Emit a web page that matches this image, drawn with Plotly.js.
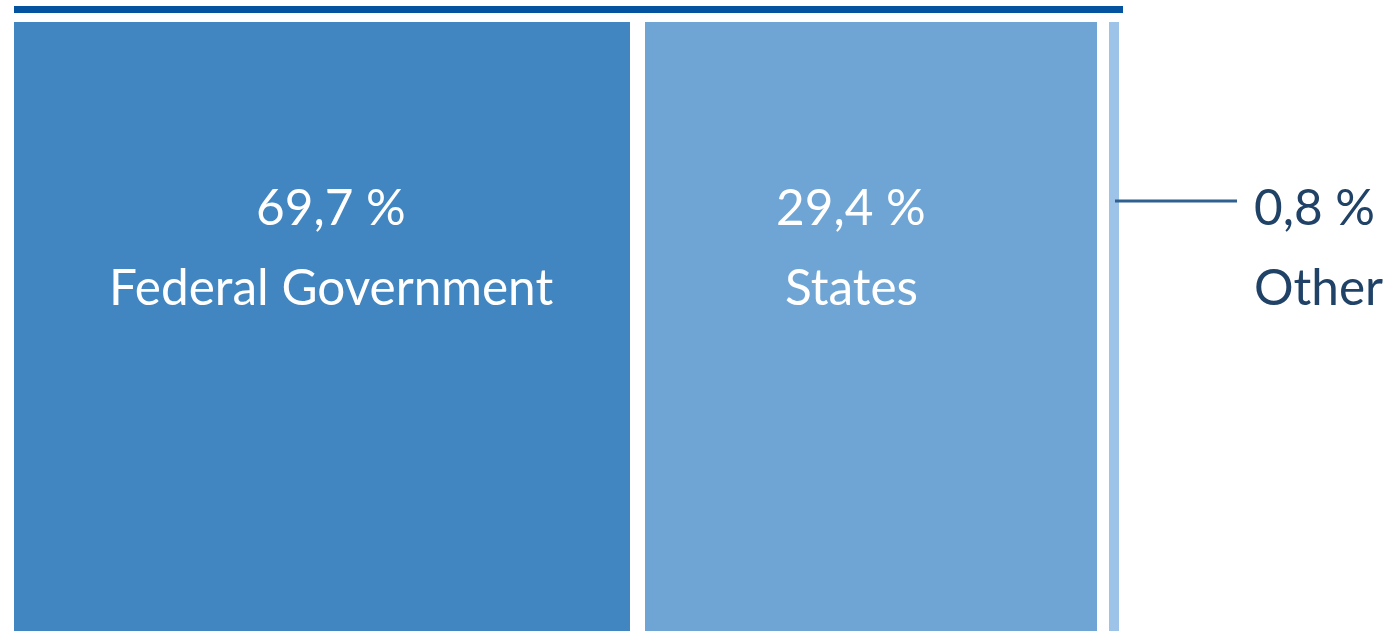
<!DOCTYPE html>
<html>
<head>
<meta charset="utf-8">
<script src="https://cdn.plot.ly/plotly-3.0.1.min.js"></script>
<style>
html,body{margin:0;padding:0;background:#fff;}
#chart{width:1389px;height:631px;}
</style>
</head>
<body>
<div id="chart"></div>
<script>
// ---- data ----
const categories = ["Federal Government", "States", "Other"];
const shares = [69.7, 29.4, 0.8];

// ---- style / layout constants ----
const W = 1389, H = 631;
const segWidths = [616, 452, 10];      // drawn widths of the blocks
const segStart = 14;
const segGaps = [15, 12];
const barColors = ["#4185c1", "#6fa5d4", "#9dc3e8"];
const labelShift = [9, -20, 0];
const FONT = "Lato, 'Open Sans', sans-serif";
const FS = 49.5;

// positions
const bases = [];
let cur = segStart;
for (let i = 0; i < segWidths.length; i++) {
  bases.push(cur);
  cur += segWidths[i] + (segGaps[i] || 0);
}
const centers = bases.map((b, i) => b + segWidths[i] / 2);
const fmt = v => v.toFixed(1).replace('.', ',') + ' %';
const py = p => 1 - p / H;

const trace = {
  type: 'bar',
  orientation: 'v',
  x: centers,
  y: shares.map(() => 1),
  width: segWidths,
  marker: {color: barColors, line: {width: 0}},
  hoverinfo: 'text',
  text: categories.map((c, i) => c + ': ' + fmt(shares[i])),
  textposition: 'none'
};

const annotations = [];
categories.forEach((c, i) => {
  const inside = i < 2;
  const xa = inside ? centers[i] : bases[i] + segWidths[i] + 133;
  const col = inside ? '#ffffff' : '#1f4266';
  const anchor = inside ? 'center' : 'left';
  annotations.push({
    x: xa, xref: 'x', y: py(206), yref: 'paper', xanchor: anchor, yanchor: 'middle',
    xshift: labelShift[i], text: fmt(shares[i]), showarrow: false,
    font: {family: FONT, size: FS, color: col}
  });
  annotations.push({
    x: xa, xref: 'x', y: py(286), yref: 'paper', xanchor: anchor, yanchor: 'middle',
    xshift: labelShift[i], text: c, showarrow: false,
    font: {family: FONT, size: FS, color: col}
  });
});

const shapes = [
  {type: 'line', xref: 'x', yref: 'paper', x0: 14, x1: 1123, y0: py(9.5), y1: py(9.5),
   line: {color: '#0353a0', width: 7}},
  {type: 'line', xref: 'x', yref: 'paper', x0: bases[2] + 6, x1: bases[2] + segWidths[2] + 118, y0: py(201), y1: py(201),
   line: {color: '#2e6190', width: 3}}
];

const layout = {
  width: W, height: H,
  margin: {l: 0, r: 0, t: 0, b: 0},
  paper_bgcolor: '#ffffff', plot_bgcolor: '#ffffff',
  showlegend: false,
  bargap: 0,
  xaxis: {range: [0, W], visible: false, fixedrange: true},
  yaxis: {range: [0, H / (H - 22)], visible: false, fixedrange: true},
  annotations: annotations,
  shapes: shapes
};

Plotly.newPlot('chart', [trace], layout, {displayModeBar: false, staticPlot: true});
</script>
</body>
</html>
